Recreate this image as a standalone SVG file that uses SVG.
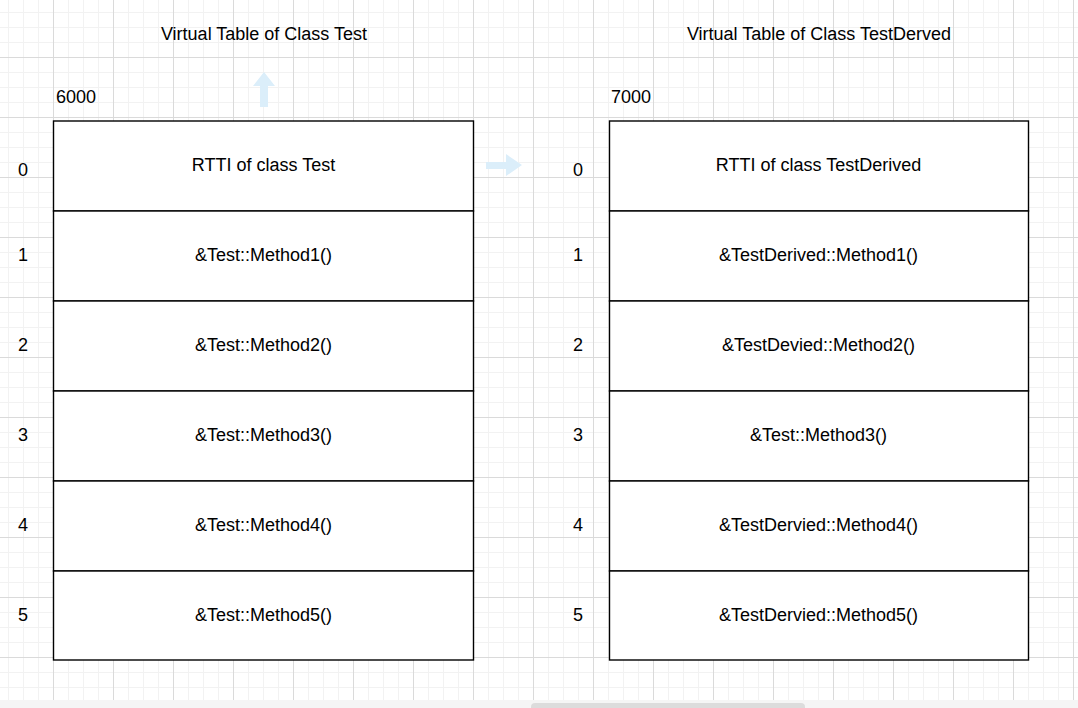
<svg xmlns="http://www.w3.org/2000/svg" width="1078" height="708" viewBox="0 0 1078 708">
<style>
text{font-family:"Liberation Sans",Arial,sans-serif;font-size:18px;fill:#000}
.c{text-anchor:middle}
.cell{fill:#fff;stroke:#000;stroke-width:1.4}
.ghost{fill:#dbeefa}
</style>
<defs>
<pattern id="minor" x="8" y="12" width="15" height="15" patternUnits="userSpaceOnUse">
<path d="M0.5 0V15M0 0.5H15" stroke="#f2f2f2" stroke-width="1" fill="none"/>
</pattern>
<pattern id="major" x="53" y="57" width="60" height="60" patternUnits="userSpaceOnUse">
<path d="M0.5 0V60M0 0.5H60" stroke="#dadada" stroke-width="1" fill="none"/>
</pattern>
</defs>
<rect width="1078" height="700" fill="#fff"/>
<rect width="1078" height="700" fill="url(#minor)"/>
<rect width="1078" height="700" fill="url(#major)"/>
<rect y="700" width="1078" height="8" fill="#f5f5f5"/>
<rect x="531" y="703" width="274" height="8" rx="4" fill="#dcdcdc"/>

<g id="connectors">
<path class="ghost" d="M260 107V86H253L264 72L275 86H268V107Z"/>
<path class="ghost" d="M486 162H506V154L522 165L506 176V169H486Z"/>
</g>

<g id="title-test"><text class="c" x="264" y="39.5">Virtual Table of Class Test</text></g>
<g id="title-derived"><text class="c" x="819" y="39.5">Virtual Table of Class TestDerved</text></g>
<g id="addr-6000"><text x="56" y="103">6000</text></g>
<g id="addr-7000"><text x="611" y="103">7000</text></g>

<g id="table-test">
<rect class="cell" x="53.5" y="121" width="420" height="90"/>
<rect class="cell" x="53.5" y="211" width="420" height="90"/>
<rect class="cell" x="53.5" y="301" width="420" height="90"/>
<rect class="cell" x="53.5" y="391" width="420" height="90"/>
<rect class="cell" x="53.5" y="481" width="420" height="90"/>
<rect class="cell" x="53.5" y="571" width="420" height="89"/>
<text class="c" x="263.5" y="170.5">RTTI of class Test</text>
<text class="c" x="263.5" y="260.5">&amp;Test::Method1()</text>
<text class="c" x="263.5" y="350.5">&amp;Test::Method2()</text>
<text class="c" x="263.5" y="440.5">&amp;Test::Method3()</text>
<text class="c" x="263.5" y="530.5">&amp;Test::Method4()</text>
<text class="c" x="263.5" y="620.5">&amp;Test::Method5()</text>
</g>
<g id="index-test">
<text class="c" x="23" y="175.5">0</text>
<text class="c" x="23" y="261">1</text>
<text class="c" x="23" y="351">2</text>
<text class="c" x="23" y="441">3</text>
<text class="c" x="23" y="531">4</text>
<text class="c" x="23" y="621">5</text>
</g>

<g id="table-derived">
<rect class="cell" x="609.5" y="121" width="419" height="90"/>
<rect class="cell" x="609.5" y="211" width="419" height="90"/>
<rect class="cell" x="609.5" y="301" width="419" height="90"/>
<rect class="cell" x="609.5" y="391" width="419" height="90"/>
<rect class="cell" x="609.5" y="481" width="419" height="90"/>
<rect class="cell" x="609.5" y="571" width="419" height="89"/>
<text class="c" x="818.5" y="170.5">RTTI of class TestDerived</text>
<text class="c" x="818.5" y="260.5">&amp;TestDerived::Method1()</text>
<text class="c" x="818.5" y="350.5">&amp;TestDevied::Method2()</text>
<text class="c" x="818.5" y="440.5">&amp;Test::Method3()</text>
<text class="c" x="818.5" y="530.5">&amp;TestDervied::Method4()</text>
<text class="c" x="818.5" y="620.5">&amp;TestDervied::Method5()</text>
</g>
<g id="index-derived">
<text class="c" x="578" y="175.5">0</text>
<text class="c" x="578" y="261">1</text>
<text class="c" x="578" y="351">2</text>
<text class="c" x="578" y="441">3</text>
<text class="c" x="578" y="531">4</text>
<text class="c" x="578" y="621">5</text>
</g>
</svg>
